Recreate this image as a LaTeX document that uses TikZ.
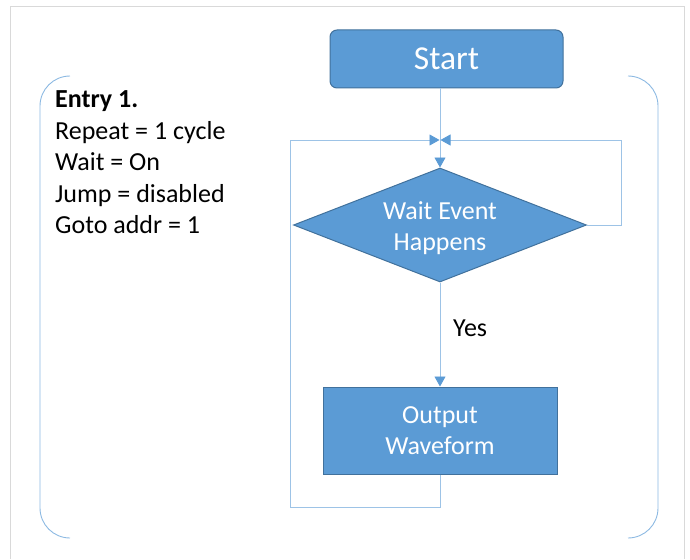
\documentclass[tikz,border=0pt]{standalone}
\usepackage{fontspec}
\setmainfont{Carlito}
\usetikzlibrary{shapes.geometric,arrows.meta,calc}
\definecolor{boxfill}{HTML}{5B9BD5}
\definecolor{boxline}{HTML}{41719C}
\definecolor{flowline}{HTML}{9DC3E6}
\definecolor{tipcol}{HTML}{5B9BD5}
\definecolor{bracecol}{HTML}{5B9BD5}
\definecolor{framecol}{HTML}{D9D9D9}
\tikzset{
  bodyfont/.style={font=\fontsize{26}{31.5}\selectfont},
  flowbox/.style={draw=boxline, line width=1pt, fill=boxfill, text=white,
    bodyfont, align=center, inner sep=0pt},
  decbox/.style={flowbox, diamond},
  boxtext/.style={text=white, bodyfont, align=center, inner sep=0pt},
  link/.style={draw=flowline, line width=0.9pt,
    -{Triangle[length=10pt,width=11pt,fill=tipcol,color=tipcol]}},
  brace/.style={draw=bracecol!70, line width=0.9pt, rounded corners=30pt},
}
\begin{document}
\begin{tikzpicture}[x=1pt,y=-1pt]
  \useasboundingbox (0,0) rectangle (690,559);
  % outer frame, open at the bottom
  \draw[framecol, line width=1pt] (10,559) -- (10,7) -- (684,7) -- (684,559);

  % brackets around the entry
  \draw[brace] (70,76) -- (40,76) -- (40,538) -- (70,538);
  \draw[brace] (628,76) -- (658,76) -- (658,538) -- (628,538);

  % entry settings (base anchor sits on the last line)
  \node[anchor=base west, align=left, inner sep=0pt, bodyfont] (entry) at (55,233.5)
    {\textbf{Entry 1.}\\Repeat = 1 cycle\\Wait = On\\Jump = disabled\\Goto addr = 1};

  % flow chart
  \node[flowbox, rounded corners=7pt, minimum width=233pt, minimum height=58pt,
        font=\fontsize{33.5}{38}\selectfont] (start) at (446.5,59) {Start};
  \node[decbox, minimum width=293pt, minimum height=114pt] (dec) at (440,225) {};
  \node[boxtext] (dectext) at ([yshift=-3pt]dec.center) {Wait Event\\Happens};
  \node[flowbox, minimum width=234pt, minimum height=87pt] (out) at (440,430.5)
    {Output\\Waveform};

  \coordinate (j) at (440,140);
  \coordinate (lb) at (290,507);
  \coordinate (rt) at (621,140);

  \draw[link] (start.south -| j) -- (dec.north);
  \draw[link] (dec.south) -- (out.north);
  \node[anchor=base west, inner sep=0pt, bodyfont] (yes) at (453,336) {Yes};
  \draw[link] (out.south) |- (lb) |- ([xshift=-0.5pt]j);
  \draw[link] (dec.east) -| (rt) -- ([xshift=0.5pt]j);
\end{tikzpicture}
\end{document}
